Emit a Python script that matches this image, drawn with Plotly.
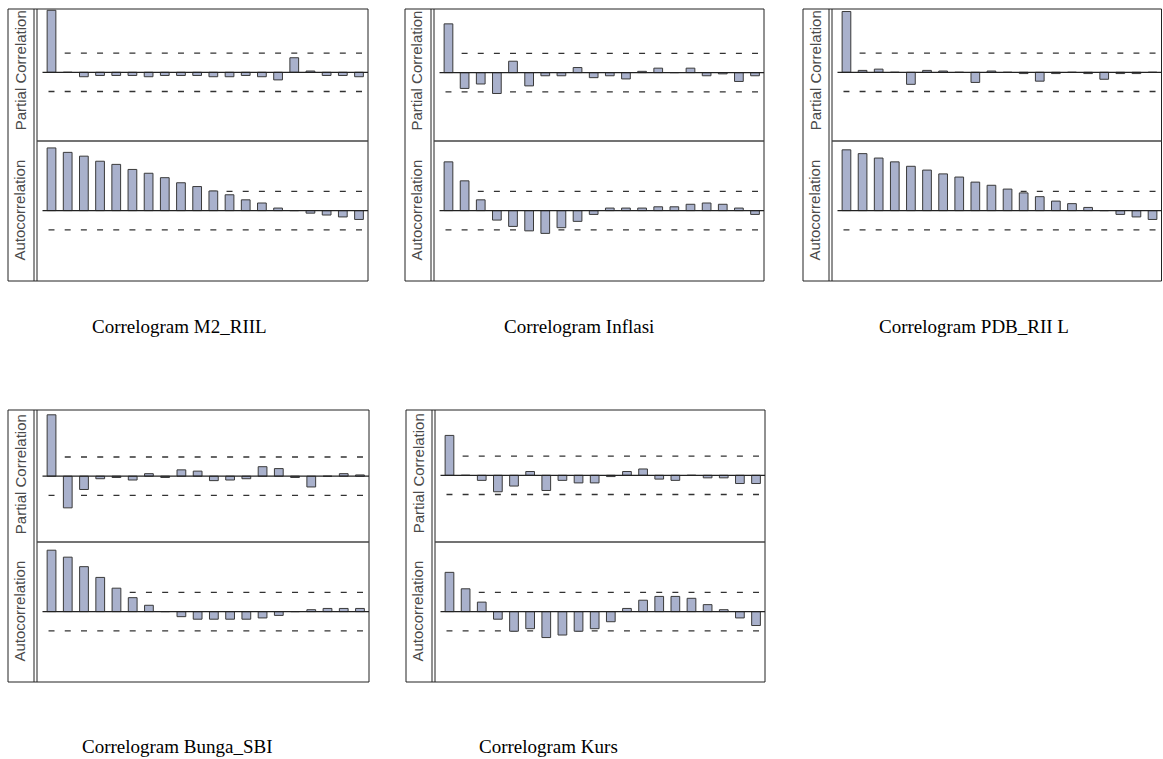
import plotly.graph_objects as go

# ---------------- data ----------------
LAGS = list(range(1, 21))
CAPTIONS = ["Correlogram M2_RIIL", "Correlogram Inflasi", "Correlogram PDB_RII L",
            "Correlogram Bunga_SBI", "Correlogram Kurs"]
PANEL_TITLES = ["Partial Correlation", "Autocorrelation"]
BOUND = 0.303

PACF_M2 = [0.98, 0.0, -0.07, -0.05, -0.05, -0.05, -0.07, -0.05, -0.05, -0.05,
           -0.07, -0.07, -0.05, -0.07, -0.12, 0.23, 0.02, -0.05, -0.05, -0.07]
ACF_M2 = [0.99, 0.92, 0.86, 0.78, 0.73, 0.65, 0.59, 0.52, 0.44, 0.38,
          0.31, 0.25, 0.17, 0.12, 0.04, 0.0, -0.04, -0.07, -0.10, -0.14]

PACF_INF = [0.77, -0.25, -0.18, -0.33, 0.18, -0.21, -0.05, -0.05, 0.08, -0.08,
            -0.05, -0.10, 0.02, 0.07, 0.0, 0.07, -0.05, -0.02, -0.14, -0.05]
ACF_INF = [0.77, 0.47, 0.17, -0.15, -0.25, -0.32, -0.36, -0.27, -0.17, -0.06,
           0.04, 0.04, 0.04, 0.06, 0.06, 0.10, 0.12, 0.10, 0.04, -0.06]

PACF_PDB = [0.96, 0.03, 0.05, 0.0, -0.19, 0.03, 0.02, 0.0, -0.16, 0.02,
            0.0, -0.02, -0.14, -0.02, 0.0, -0.02, -0.11, -0.02, -0.02, 0.0]
ACF_PDB = [0.96, 0.90, 0.83, 0.77, 0.70, 0.64, 0.58, 0.53, 0.45, 0.40,
           0.34, 0.28, 0.22, 0.15, 0.11, 0.05, 0.0, -0.06, -0.10, -0.14]

PACF_SBI = [0.97, -0.50, -0.21, -0.04, -0.02, -0.06, 0.04, -0.02, 0.10, 0.08,
            -0.07, -0.06, -0.04, 0.15, 0.12, -0.02, -0.17, 0.0, 0.04, 0.02]
ACF_SBI = [0.97, 0.86, 0.71, 0.54, 0.37, 0.22, 0.10, 0.0, -0.08, -0.12,
           -0.12, -0.12, -0.12, -0.10, -0.06, 0.0, 0.03, 0.05, 0.05, 0.05]

PACF_KURS = [0.63, 0.0, -0.08, -0.26, -0.17, 0.06, -0.24, -0.08, -0.12, -0.12,
             -0.02, 0.06, 0.10, -0.06, -0.08, 0.0, -0.04, -0.04, -0.13, -0.13]
ACF_KURS = [0.62, 0.36, 0.15, -0.12, -0.31, -0.27, -0.41, -0.37, -0.31, -0.27,
            -0.16, 0.05, 0.18, 0.24, 0.24, 0.21, 0.11, 0.03, -0.10, -0.22]

PACF_ALL = [PACF_M2, PACF_INF, PACF_PDB, PACF_SBI, PACF_KURS]
ACF_ALL = [ACF_M2, ACF_INF, ACF_PDB, ACF_SBI, ACF_KURS]

# ---------------- layout geometry (page pixels) ----------------
W, H = 1163, 759
PANELS = [(8, 9, 360), (405, 9, 359), (803, 9, 358.5), (8, 410, 361), (406, 410, 359)]
PACF_ZERO = [63.3, 63.6, 63.3, 66.2, 65.3]   # zero line offset from panel top
SEP = 132
ACF_ZERO = 201.6
PANEL_H = 272
PX_PER_UNIT = 63.3
PLOT_X0 = 34.5
CAPTION_POS = [(90, 326), (502, 326), (877, 326), (80, 746), (477, 746)]

BAR_FILL = "#A9B1CC"
BAR_LINE = "#3a3a3a"
INK = "#222222"


def px(x):
    return x / W


def py(y):
    return 1 - y / H


fig = go.Figure()
layout = {}
shapes = []
annotations = []

for i, (left, top, width) in enumerate(PANELS):
    halves = [
        (PACF_ALL[i], top, top + SEP, top + PACF_ZERO[i]),
        (ACF_ALL[i], top + SEP, top + PANEL_H, top + ACF_ZERO),
    ]
    for h, (vals, y_top, y_bot, y_zero) in enumerate(halves):
        k = 2 * i + h + 1
        xa = "x" if k == 1 else f"x{k}"
        ya = "y" if k == 1 else f"y{k}"
        xname = "xaxis" if k == 1 else f"xaxis{k}"
        yname = "yaxis" if k == 1 else f"yaxis{k}"
        ymax = (y_zero - y_top) / PX_PER_UNIT
        ymin = -(y_bot - y_zero) / PX_PER_UNIT
        layout[xname] = dict(domain=[px(left + PLOT_X0), px(left + width)], range=[0.444, 20.556],
                             anchor=ya, visible=False, fixedrange=True)
        layout[yname] = dict(domain=[py(y_bot), py(y_top)], range=[ymin, ymax],
                             anchor=xa, visible=False, fixedrange=True)
        # dashed bounds: one short dash per lag, drawn beneath the bars
        path = ""
        for sgn in (1, -1):
            for lag in LAGS:
                path += f"M{lag - 0.185},{sgn * BOUND} L{lag + 0.185},{sgn * BOUND} "
        shapes.append(dict(type="path", xref=xa, yref=ya, path=path.strip(), layer="below",
                           line=dict(color="#333333", width=1.3)))
        fig.add_trace(go.Bar(x=LAGS, y=vals, xaxis=xa, yaxis=ya, width=0.54,
                             marker=dict(color=BAR_FILL, line=dict(color=BAR_LINE, width=1)),
                             showlegend=False))
        # zero line
        shapes.append(dict(type="line", xref=f"{xa} domain", yref=ya, x0=0, x1=1, y0=0, y1=0,
                           line=dict(color=INK, width=1.2)))
        # side label
        annotations.append(dict(text=PANEL_TITLES[h], xref="paper", yref="paper",
                                x=px(left + 12), y=py(y_zero - (2 if h == 0 else 0)),
                                textangle=-90, showarrow=False, xanchor="center", yanchor="middle",
                                font=dict(family="Liberation Sans, Arial", size=15, color="#4a4a4a")))
    # outer border
    shapes.append(dict(type="rect", xref="paper", yref="paper",
                       x0=px(left), x1=px(left + width), y0=py(top + PANEL_H), y1=py(top),
                       line=dict(color=INK, width=1)))
    # double vertical line
    for off in (26, 29):
        shapes.append(dict(type="line", xref="paper", yref="paper",
                           x0=px(left + off), x1=px(left + off), y0=py(top + PANEL_H), y1=py(top),
                           line=dict(color=INK, width=1)))
    # separator
    shapes.append(dict(type="line", xref="paper", yref="paper",
                       x0=px(left + 29), x1=px(left + width), y0=py(top + SEP), y1=py(top + SEP),
                       line=dict(color="#444444", width=1.5)))
    cx, cy = CAPTION_POS[i]
    annotations.append(dict(text=CAPTIONS[i], xref="paper", yref="paper", x=px(cx), y=py(cy),
                            showarrow=False, xanchor="left", yanchor="middle",
                            font=dict(family="Liberation Serif, Times New Roman", size=19,
                                      color="#000000")))

fig.update_layout(width=W, height=H, margin=dict(l=0, r=0, t=0, b=0),
                  paper_bgcolor="white", plot_bgcolor="rgba(0,0,0,0)",
                  shapes=shapes, annotations=annotations, barmode="overlay", **layout)

fig.write_html("out.html", config={"displayModeBar": False},
               post_script="document.body.style.margin='0';document.body.style.overflow='hidden';")
